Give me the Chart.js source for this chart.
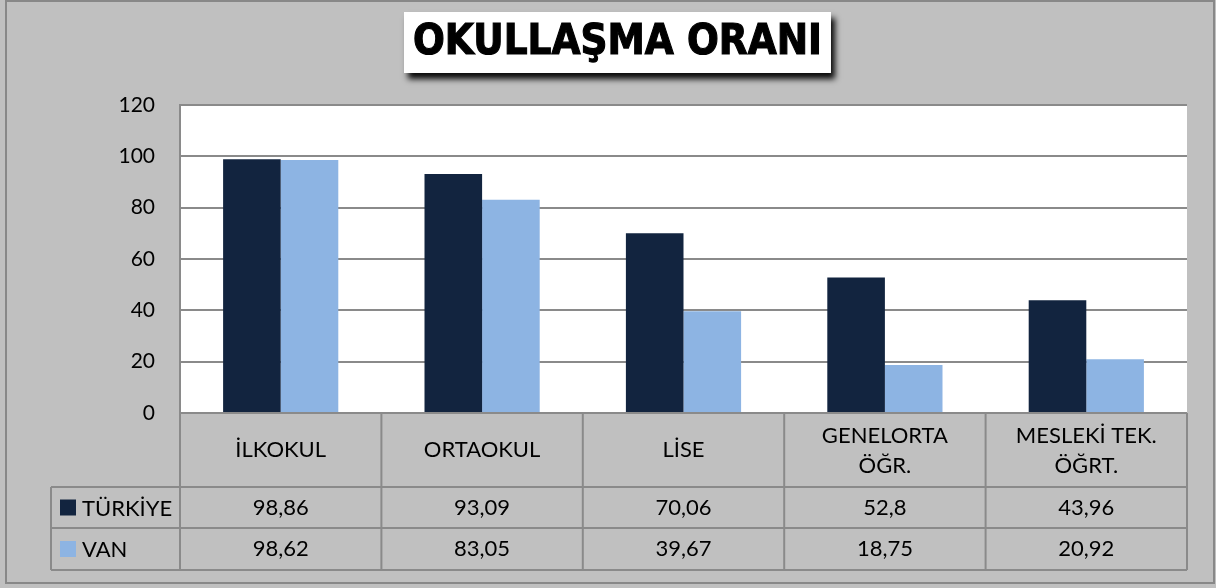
<!DOCTYPE html>
<html>
<head>
<meta charset="utf-8">
<script src="https://cdn.jsdelivr.net/npm/chart.js@4"></script>
<style>
  html, body { margin: 0; padding: 0; background: #ffffff; }
  #wrap { width: 1216px; height: 588px; }
</style>
</head>
<body>
<div id="wrap"><canvas id="okul" width="1216" height="588"></canvas></div>
<script>
// Okullaşma oranı: Türkiye ve Van karşılaştırması, altta veri tablosu ile

const kategoriler = ['İLKOKUL', 'ORTAOKUL', 'LİSE', ['GENELORTA', 'ÖĞR.'], ['MESLEKİ TEK.', 'ÖĞRT.']];
const turkiye = [98.86, 93.09, 70.06, 52.8, 43.96];
const van = [98.62, 83.05, 39.67, 18.75, 20.92];
const seriAdlari = ['TÜRKİYE', 'VAN'];
const baslik = 'OKULLAŞMA ORANI';

const KOYU = '#12243f';
const ACIK = '#8db4e3';
const GRI = '#c0c0c0';
const CIZGI = '#8a8a8a';
const FONT = 'Lato, "Open Sans", sans-serif';

function sayiYaz(v) {
  return String(v).replace('.', ',');
}

// arka plan, çerçeve, başlık kutusu ve veri tablosu
const tabloPlugin = {
  id: 'tablo',
  beforeDraw(chart) {
    const ctx = chart.ctx;
    const area = chart.chartArea;
    ctx.save();
    ctx.fillStyle = GRI;
    ctx.fillRect(0, 0, chart.width, chart.height);
    ctx.fillStyle = '#ffffff';
    ctx.fillRect(area.left, area.top, area.right - area.left, area.bottom - area.top);
    // dış çerçeve
    ctx.strokeStyle = '#888888';
    ctx.lineWidth = 2;
    ctx.strokeRect(6, 1, 1208, 582);
    ctx.restore();
  },
  afterDraw(chart) {
    const ctx = chart.ctx;
    const area = chart.chartArea;
    const x = chart.scales.x;
    const n = kategoriler.length;
    const sinirlar = [];
    for (let i = 0; i <= n; i++) {
      sinirlar.push(area.left + (area.right - area.left) * i / n);
    }
    const ustY = area.bottom;
    const r1 = 487, r2 = 528, r3 = 570;
    const solX = 51;

    ctx.save();
    ctx.strokeStyle = CIZGI;
    ctx.lineWidth = 2;
    ctx.beginPath();
    ctx.moveTo(area.left, ustY); ctx.lineTo(area.right, ustY);
    [r1, r2, r3].forEach(y => { ctx.moveTo(solX, y); ctx.lineTo(area.right, y); });
    ctx.moveTo(solX, r1); ctx.lineTo(solX, r3);
    sinirlar.forEach(sx => { ctx.moveTo(sx, ustY); ctx.lineTo(sx, r3); });
    ctx.stroke();

    ctx.fillStyle = '#000000';
    ctx.font = '22px ' + FONT;
    ctx.textAlign = 'center';
    ctx.textBaseline = 'middle';
    kategoriler.forEach((k, i) => {
      const cx = x.getPixelForValue(i);
      if (Array.isArray(k)) {
        ctx.fillText(k[0], cx, 436);
        ctx.fillText(k[1], cx, 466);
      } else {
        ctx.fillText(k, cx, 450);
      }
      ctx.fillText(sayiYaz(turkiye[i]), cx, 508);
      ctx.fillText(sayiYaz(van[i]), cx, 549);
    });

    // lejant hücreleri
    ctx.textAlign = 'left';
    [[KOYU, r1], [ACIK, r2]].forEach(([renk, y], j) => {
      const orta = (y + [r2, r3][j]) / 2;
      ctx.fillStyle = renk;
      ctx.fillRect(60, orta - 8, 16, 16);
      ctx.fillStyle = '#000000';
      ctx.fillText(seriAdlari[j], 82, orta + 1);
    });

    // başlık kutusu
    const bx = 404, by = 12, bw = 427, bh = 61;
    ctx.save();
    ctx.shadowColor = 'rgba(0,0,0,0.95)';
    ctx.shadowBlur = 6;
    ctx.shadowOffsetX = 4;
    ctx.shadowOffsetY = 6;
    ctx.fillStyle = '#ffffff';
    ctx.fillRect(bx, by, bw, bh);
    ctx.restore();
    ctx.fillStyle = '#000000';
    ctx.font = '900 42px "DejaVu Sans", sans-serif';
    ctx.textAlign = 'center';
    ctx.textBaseline = 'middle';
    const w = ctx.measureText(baslik).width;
    const hedef = 409;
    ctx.save();
    ctx.translate(bx + bw / 2, by + bh / 2 + 1);
    ctx.scale(hedef / w, 1);
    ctx.lineWidth = 1.2;
    ctx.strokeStyle = '#000000';
    ctx.strokeText(baslik, 0, 0);
    ctx.fillText(baslik, 0, 0);
    ctx.restore();
    ctx.restore();
  }
};

new Chart(document.getElementById('okul'), {
  type: 'bar',
  data: {
    labels: kategoriler,
    datasets: [
      { label: seriAdlari[0], data: turkiye, backgroundColor: KOYU },
      { label: seriAdlari[1], data: van, backgroundColor: ACIK }
    ]
  },
  options: {
    responsive: false,
    animation: false,
    layout: { padding: { left: 0, top: 105, right: 29, bottom: 175 } },
    datasets: { bar: { categoryPercentage: 0.572, barPercentage: 1.0 } },
    plugins: {
      legend: { display: false },
      tooltip: { enabled: false },
      title: { display: false }
    },
    scales: {
      x: {
        display: false,
        grid: { display: false }
      },
      y: {
        min: 0,
        max: 120,
        ticks: { stepSize: 20, color: '#000000', font: { family: FONT, size: 21 }, padding: 25 },
        grid: { color: CIZGI, lineWidth: 2, drawTicks: false },
        border: { color: CIZGI, width: 2 },
        afterFit(scale) { scale.width = 180; }
      }
    }
  },
  plugins: [tabloPlugin]
});
</script>
</body>
</html>
